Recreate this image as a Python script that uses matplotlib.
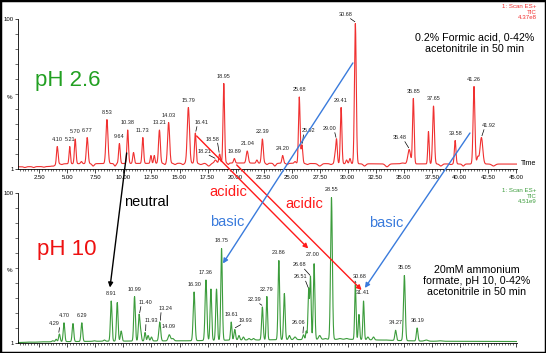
import numpy as np
import matplotlib.pyplot as plt
from matplotlib.patches import ConnectionPatch, Rectangle
from matplotlib.ticker import MultipleLocator

plt.rcParams['font.family'] = ['Liberation Sans', 'DejaVu Sans']

# ----------------------------------------------------------------------------
# pH 2.6 run (formic acid) : labelled peaks, retention time / height % / width
# ----------------------------------------------------------------------------
top_times = [4.10, 5.21, 5.70, 6.77, 8.53, 9.64, 10.38, 11.73, 13.21, 14.03,
             15.79, 16.41, 18.21, 18.58, 18.95, 19.89, 21.04, 22.39, 24.20,
             25.68, 25.92, 29.00, 29.41, 30.68, 35.48, 35.85, 37.65, 39.58,
             41.26, 41.92]
top_heights = [15, 15, 20, 21, 33, 17, 26, 21, 26, 31,
               41, 24, 6, 10, 57, 7, 12, 20, 9,
               48, 16, 20, 41, 97, 13, 47, 42, 19,
               55, 21]
top_widths = [.07, .06, .07, .08, .09, .07, .07, .07, .08, .09,
              .10, .07, .10, .07, .07, .07, .09, .08, .07,
              .07, .07, .07, .07, .08, .12, .07, .08, .07,
              .08, .12]

# small unlabelled peaks
top_minor_times = [1.2, 2.0, 2.9, 3.6, 4.5, 6.25, 7.3, 9.25, 10.9, 12.45, 12.75,
                   13.7, 14.6, 15.3, 16.9, 17.6, 19.35, 20.35, 21.45, 21.9, 22.8,
                   23.5, 24.6, 25.3, 26.4, 27.5, 28.5, 28.85, 29.9, 30.2, 31.5,
                   33.5, 34.9, 37.2, 38.3, 39.2, 40.3, 41.6, 43.0]
top_minor_heights = [1.0, 1.0, 1.2, 2, 3, 5, 2, 2, 11, 9, 9,
                     3, 3, 3, 3, 2, 3, 4, 4, 6, 3,
                     2, 3, 5, 3, 2, 3, 8, 6, 7, 2,
                     1.5, 4, 25, 2, 3, 2, 8, 2]
top_minor_widths = [.1, .1, .1, .08, .1, .07, .1, .08, .07, .06, .06,
                    .08, .1, .1, .15, .15, .06, .08, .07, .07, .08,
                    .1, .08, .08, .1, .15, .1, .06, .07, .07, .12,
                    .15, .15, .06, .12, .1, .1, .08, .15]

top_base_t = [0.6, 3.7, 4.2, 20, 30, 45.1]
top_base_y = [1.5, 1.7, 3.5, 4.0, 3.5, 3.3]

# labels that sit away from their peak (label centre time, label centre %)
top_label_moves = {'16.41': (17.0, 31), '18.21': (17.2, 12), '18.58': (17.95, 20),
                   '25.92': (26.5, 25.5), '29.00': (28.4, 27), '30.68': (29.8, 103),
                   '35.48': (34.65, 21), '41.92': (42.6, 29)}

# ----------------------------------------------------------------------------
# pH 10 run (ammonium formate)
# ----------------------------------------------------------------------------
bot_times = [4.29, 4.70, 6.29, 8.91, 10.99, 11.40, 11.93, 13.24, 14.09, 16.30,
             17.36, 18.75, 19.61, 19.93, 22.39, 22.79, 23.86, 26.06, 26.51,
             26.68, 27.00, 28.55, 30.68, 31.41, 34.27, 35.05, 36.19]
bot_heights = [6, 13.5, 13.5, 28, 31, 19, 7, 14, 5.5, 34,
               42, 63, 14, 9, 24, 31, 55, 5.5, 36,
               44, 53, 97, 39, 28, 8.5, 45, 10]
bot_widths = [.07, .07, .07, .07, .07, .07, .06, .08, .1, .08,
              .08, .07, .06, .07, .07, .06, .07, .07, .06,
              .06, .07, .08, .06, .06, .07, .08, .07]

bot_minor_times = [1.5, 2.8, 3.7, 4.0, 5.50, 7.4, 8.3, 9.45, 9.8, 11.55, 12.2,
                   12.5, 14.4, 15.2, 17.8, 18.3, 20.3, 20.7, 21.2, 21.6, 22.0,
                   24.35, 24.8, 25.3, 26.3, 27.5, 28.0, 29.3, 29.9, 31.0, 31.8,
                   32.3, 33.4, 37.0, 38.2]
bot_minor_heights = [0.6, 0.8, 1.5, 2.5, 13, 1.5, 2, 27, 8, 7, 5,
                     4, 3, 1.5, 36, 36, 5, 4, 3, 3, 2,
                     33, 5, 4, 8, 5, 3, 3, 3, 19, 4,
                     4, 2, 2, 1.5]
bot_minor_widths = [.15, .15, .08, .07, .07, .1, .08, .07, .07, .06, .07,
                    .07, .1, .1, .07, .07, .07, .07, .08, .08, .1,
                    .07, .08, .1, .05, .1, .12, .12, .12, .06, .08,
                    .08, .12, .15, .15]

bot_base_t = [0.6, 3.5, 8, 16, 20, 30, 37, 45.1]
bot_base_y = [0.3, 0.8, 1.2, 1.5, 2.0, 2.5, 1.2, 1.0]

bot_label_moves = {'4.29': (3.85, 13), '11.40': (12.0, 27), '11.93': (12.45, 15),
                   '13.24': (13.8, 23), '14.09': (14.05, 11), '19.93': (20.9, 15),
                   '22.39': (21.7, 29), '26.06': (25.6, 13.5), '26.51': (25.8, 44),
                   '26.68': (25.7, 52), '27.00': (26.9, 58.7), '30.68': (31.1, 44),
                   '31.41': (31.35, 34)}

# arrows between the two runs: (time, %) in top run -> (time, %) in bottom run
arrow_starts = [(10.29, 10.7), (16.53, 22), (20.1, 2.7), (30.46, 70.7), (40.9, 24)]
arrow_ends = [(8.8, 37), (26.48, 63), (31.24, 35.3), (18.87, 53), (31.53, 36.7)]
arrow_colors = ['black', '#ff1a1a', '#ff1a1a', '#3a7bdc', '#3a7bdc']

TOP_RED = '#f03030'
BOT_GREEN = '#3c9c3c'
XMIN, XMAX = 0.6, 45.1


def trace(t, times, heights, widths, base_t, base_y):
    """Sum of gaussian peaks on a piecewise baseline; apex ~ given height."""
    base = np.interp(t, base_t, base_y)
    y = base.copy()
    for t0, h, w in zip(times, heights, widths):
        y += (h - np.interp(t0, base_t, base_y)) * np.exp(-0.5 * ((t - t0) / w) ** 2)
    return y


def style_axis(ax, show_xlabels):
    ax.set_xlim(XMIN, XMAX)
    ax.set_ylim(0, 100)
    for s in ['top', 'right']:
        ax.spines[s].set_visible(False)
    for s in ['left', 'bottom']:
        ax.spines[s].set_linewidth(0.6)
    ax.xaxis.set_major_locator(MultipleLocator(2.5))
    ax.xaxis.set_minor_locator(MultipleLocator(0.25))
    ax.set_yticks([0, 100])
    ax.set_yticklabels(['1', '100'])
    ax.yaxis.set_minor_locator(MultipleLocator(10))
    ax.tick_params(axis='x', which='major', length=3, width=0.5, labelsize=4.3, pad=1.5)
    ax.tick_params(axis='x', which='minor', length=1.5, width=0.4)
    ax.tick_params(axis='y', which='major', length=2, width=0.5, labelsize=4.3, pad=1)
    ax.tick_params(axis='y', which='minor', length=2, width=0.4)
    ax.xaxis.set_major_formatter(plt.FuncFormatter(lambda v, p: f'{v:.2f}'))
    if not show_xlabels:
        ax.tick_params(axis='x', labelbottom=False)
    ax.text(-0.012, 0.48, '%', transform=ax.transAxes, ha='right', va='center', fontsize=4.5)


def label_peaks(ax, times, heights, moves):
    for t0, h in zip(times, heights):
        key = f'{t0:.2f}'
        lt, ly = moves.get(key, (t0, h + 5))
        ax.text(lt, ly, key, ha='center', va='center', fontsize=4, color='#222222',
                clip_on=False)
        if abs(lt - t0) > 0.25:
            sgn = np.sign(t0 - lt)
            ax.plot([lt + sgn * 0.45, t0 - sgn * 0.05], [ly - 2.8, h + 1.2],
                    color='black', lw=0.5, clip_on=False)


fig = plt.figure(figsize=(5.46, 3.53), dpi=100)
ax_top = fig.add_axes([0.033, 0.5212, 0.914, 0.425])
ax_bot = fig.add_axes([0.033, 0.0283, 0.914, 0.425])

t = np.linspace(XMIN, XMAX, 4000)

y_top = trace(t, top_times + top_minor_times, top_heights + top_minor_heights,
              top_widths + top_minor_widths, top_base_t, top_base_y)
y_bot = trace(t, bot_times + bot_minor_times, bot_heights + bot_minor_heights,
              bot_widths + bot_minor_widths, bot_base_t, bot_base_y)

ax_top.plot(t, y_top, color=TOP_RED, lw=0.8)
ax_bot.plot(t, y_bot, color=BOT_GREEN, lw=0.8)

style_axis(ax_top, True)
style_axis(ax_bot, False)

label_peaks(ax_top, top_times, top_heights, top_label_moves)
label_peaks(ax_bot, bot_times, bot_heights, bot_label_moves)

# headers
ax_top.text(46.86, 110, '1: Scan ES+\nTIC\n4.37e8', ha='right', va='top', fontsize=4.4,
            color=TOP_RED, linespacing=1.15, clip_on=False)
ax_bot.text(46.86, 103.3, '1: Scan ES+\nTIC\n4.51e9', ha='right', va='top', fontsize=4.4,
            color=BOT_GREEN, linespacing=1.15, clip_on=False)
ax_top.text(45.4, 4, 'Time', ha='left', va='center', fontsize=5, clip_on=False)

ax_top.text(2.12, 59, 'pH 2.6', ha='left', va='center', fontsize=16, color='#22a022')
ax_bot.text(2.27, 62, 'pH 10', ha='left', va='center', fontsize=16, color='#ee1111')

ax_top.text(41.3, 84, '0.2% Formic acid, 0-42%\nacetonitrile in 50 min', ha='center',
            va='center', fontsize=7.7, linespacing=1.18, clip_on=False)
ax_bot.text(41.5, 41.3, '20mM ammonium\nformate, pH 10, 0-42%\nacetonitrile in 50 min',
            ha='center', va='center', fontsize=7.7, linespacing=1.1, clip_on=False)

# arrow captions
ax_bot.text(12.1, 94, 'neutral', ha='center', va='center', fontsize=10.5, color='black',
            clip_on=False)
ax_bot.text(19.35, 100.7, 'acidic', ha='center', va='center', fontsize=10.5,
            color='#ff1a1a', clip_on=False)
ax_bot.text(26.15, 92.7, 'acidic', ha='center', va='center', fontsize=10.5,
            color='#ff1a1a', clip_on=False)
ax_bot.text(19.3, 80.7, 'basic', ha='center', va='center', fontsize=10.5,
            color='#3a7bdc', clip_on=False)
ax_bot.text(33.4, 80, 'basic', ha='center', va='center', fontsize=10.5,
            color='#3a7bdc', clip_on=False)

for a, b, c in zip(arrow_starts, arrow_ends, arrow_colors):
    con = ConnectionPatch(xyA=a, coordsA=ax_top.transData, xyB=b, coordsB=ax_bot.transData,
                          arrowstyle='-|>', color=c, lw=1.0, mutation_scale=7,
                          shrinkA=0, shrinkB=0)
    fig.add_artist(con)

fig.add_artist(Rectangle((0, 0), 1, 1, transform=fig.transFigure, fill=False,
                         edgecolor='black', lw=2.5))

fig.savefig('out.png', dpi=100)
